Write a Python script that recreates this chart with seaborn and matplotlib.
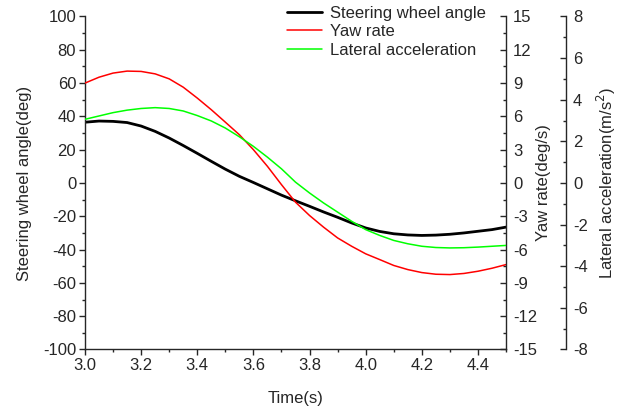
import numpy as np
import pandas as pd
import matplotlib
matplotlib.use("Agg")
import matplotlib.pyplot as plt
import seaborn as sns
from matplotlib.ticker import MultipleLocator

# ── Data ──────────────────────────────────────────────────────────────────────
time_s = [3.00, 3.05, 3.10, 3.15, 3.20, 3.25, 3.30, 3.35, 3.40, 3.45, 3.50,
          3.55, 3.60, 3.65, 3.70, 3.75, 3.80, 3.85, 3.90, 3.95, 4.00,
          4.05, 4.10, 4.15, 4.20, 4.25, 4.30, 4.35, 4.40, 4.45, 4.50]

steering_deg = [36.5, 37.2, 37.0, 36.3, 34.2, 31.0, 27.0, 22.5, 17.8, 13.0, 8.3,
                4.0, 0.3, -3.5, -7.3, -10.7, -14.0, -17.4, -20.6, -24.0, -27.0,
                -29.1, -30.5, -31.2, -31.5, -31.3, -30.8, -30.0, -29.0, -28.0, -26.5]

yaw_rate_dps = [9.00, 9.53, 9.90, 10.08, 10.05, 9.83, 9.38, 8.63, 7.65, 6.60, 5.48,
                4.35, 3.00, 1.50, -0.15, -1.73, -2.93, -3.98, -4.95, -5.70, -6.38,
                -6.90, -7.43, -7.80, -8.07, -8.22, -8.25, -8.15, -7.95, -7.68, -7.35]

lat_acc_ms2 = [3.06, 3.22, 3.38, 3.50, 3.58, 3.62, 3.58, 3.46, 3.24, 2.98, 2.64,
               2.22, 1.76, 1.24, 0.68, 0.04, -0.48, -0.96, -1.40, -1.84, -2.24,
               -2.52, -2.76, -2.92, -3.04, -3.10, -3.12, -3.11, -3.08, -3.04, -3.00]

df = pd.DataFrame({"t": time_s, "steer": steering_deg,
                   "yaw": yaw_rate_dps, "lat": lat_acc_ms2})

# ── Style ─────────────────────────────────────────────────────────────────────
sns.set_style("ticks")
plt.rcParams["font.family"] = ["Liberation Sans", "DejaVu Sans"]
plt.rcParams["font.size"] = 12
plt.rcParams["axes.linewidth"] = 1.0
plt.rcParams["axes.unicode_minus"] = False

fig = plt.figure(figsize=(6.19, 4.12), dpi=100)
ax = fig.add_axes([0.1373, 0.1517, 0.8175 - 0.1373, 0.96 - 0.1517])
ax2 = ax.twinx()
ax3 = ax.twinx()
ax3.spines["right"].set_position(("outward", 43.2))

sns.lineplot(data=df, x="t", y="steer", ax=ax, color="black", linewidth=2.0,
             label="Steering wheel angle", legend=False)
sns.lineplot(data=df, x="t", y="yaw", ax=ax2, color="#ff0000", linewidth=1.1,
             label="Yaw rate", legend=False)
sns.lineplot(data=df, x="t", y="lat", ax=ax3, color="#00ff00", linewidth=1.1,
             label="Lateral acceleration", legend=False)

# ── Axes ──────────────────────────────────────────────────────────────────────
ax.set_xlim(3.0, 4.5)
ax.set_ylim(-100, 100)
ax2.set_ylim(-15, 15)
ax3.set_ylim(-8, 8)

ax.xaxis.set_minor_locator(MultipleLocator(0.1))
ax.set_xticks(np.round(np.arange(3.0, 4.41, 0.2), 1))
ax.set_xticklabels([f"{v:.1f}" for v in np.arange(3.0, 4.41, 0.2)])
ax.yaxis.set_major_locator(MultipleLocator(20))
ax.yaxis.set_minor_locator(MultipleLocator(10))
ax2.yaxis.set_major_locator(MultipleLocator(3))
ax2.yaxis.set_minor_locator(MultipleLocator(1.5))
ax3.yaxis.set_major_locator(MultipleLocator(2))
ax3.yaxis.set_minor_locator(MultipleLocator(1))

for a in (ax, ax2, ax3):
    a.spines["top"].set_visible(False)
ax.spines["right"].set_visible(False)
for a in (ax2, ax3):
    a.spines["left"].set_visible(False)
    a.spines["bottom"].set_visible(False)

ax.tick_params(which="major", direction="out", length=4.3, width=1.0, pad=2)
ax.tick_params(which="minor", direction="out", length=2.2, width=1.0)
for a in (ax2, ax3):
    a.tick_params(axis="y", which="major", direction="in", length=4.3, width=1.0, pad=5)
    a.tick_params(axis="y", which="minor", direction="in", length=2.2, width=1.0)

ax.set_xlabel("Time(s)", labelpad=12.5)
ax.set_ylabel("Steering wheel angle(deg)", labelpad=8)
ax2.set_ylabel("Yaw rate(deg/s)", labelpad=-0.5)
ax3.set_ylabel("Lateral acceleration(m/s$^2$)", labelpad=5)

handles = ax.get_lines()[:1] + ax2.get_lines()[:1] + ax3.get_lines()[:1]
fig.legend(handles, [h.get_label() for h in handles], loc="upper left",
           bbox_to_anchor=(287 / 619, 1 - 6 / 412), bbox_transform=fig.transFigure,
           frameon=False, borderpad=0, borderaxespad=0, handlelength=2.1,
           handletextpad=0.45, labelspacing=0.2, fontsize=12)

fig.savefig("out.png", dpi=100)
plt.close(fig)
